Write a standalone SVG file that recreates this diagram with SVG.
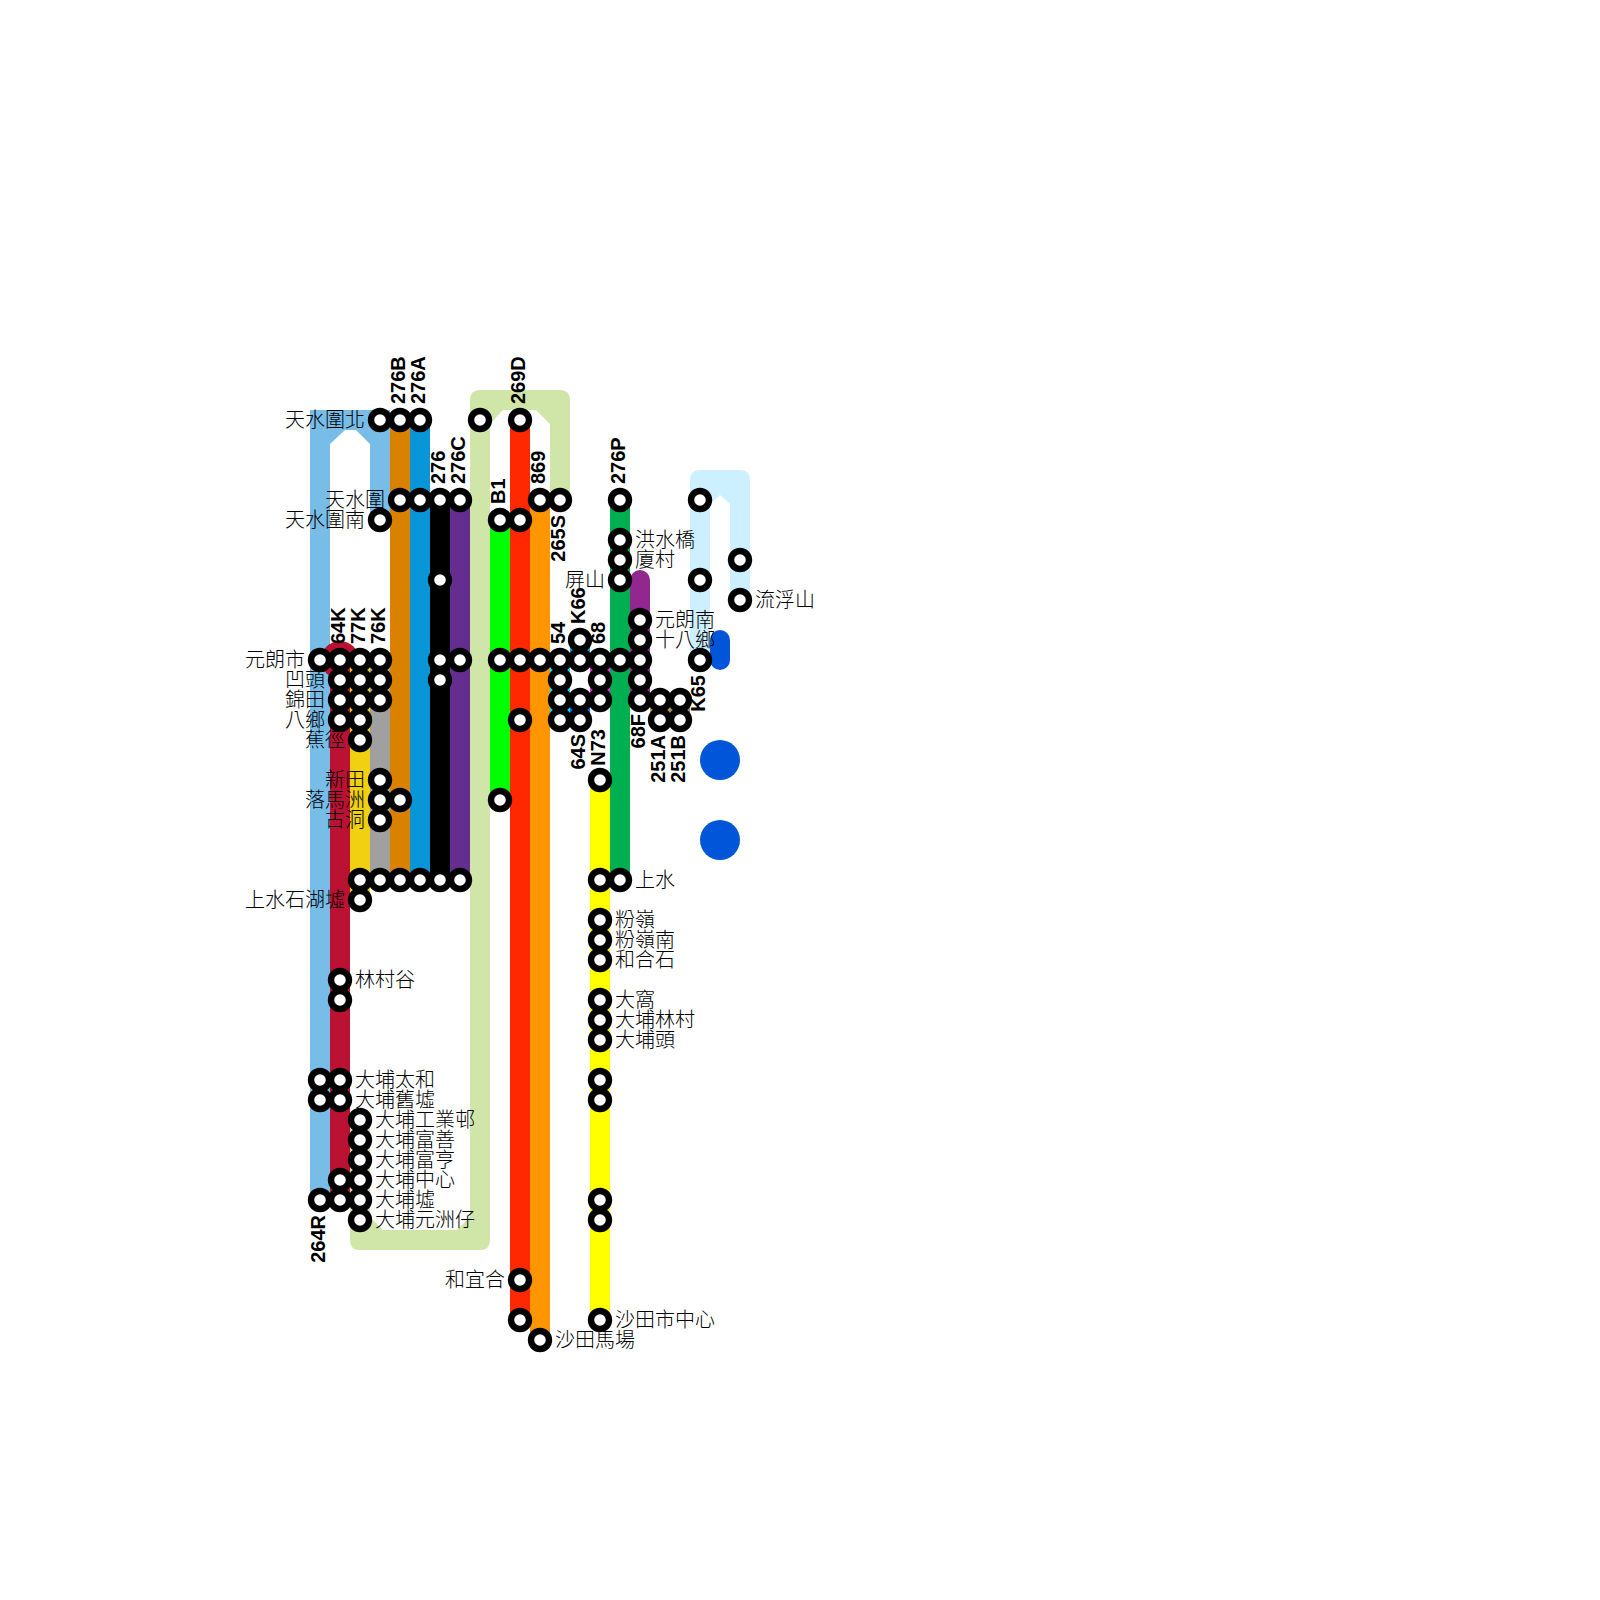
<svg xmlns="http://www.w3.org/2000/svg" width="1600" height="1600" viewBox="0 0 1600 1600">
<style>
.l{stroke-width:20;fill:none}
.s{fill:#fff;stroke:#000;stroke-width:6.4}
text{font-family:"Liberation Sans","Noto Sans CJK TC",sans-serif;fill:#000}
.t{font-size:20px;font-weight:300}
.e{text-anchor:end}
.r{font-size:20px;font-weight:bold}
</style>
<rect width="1600" height="1600" fill="#fff"/>
<g id="connectors">
<path id="line-264R" fill="#78bce8" d="M310 1200V410H390V520H370V444L356 430H345L330 444V1200Z"/>
<path id="line-265S" fill="#d0e5a8" d="M350 1120V1240Q350 1250 360 1250H480Q490 1250 490 1240V424L503 410H536L550 424V500H570V400Q570 390 560 390H480Q470 390 470 400V1217L457 1230H383L370 1217V1120Z"/>
<path id="line-K65" fill="#ccf0ff" d="M690 660V480Q690 470 700 470H740Q750 470 750 480V600H730V504L720 495L710 504V660Z"/>
<path id="line-64K" class="l" stroke="#bb1133" d="M340 660V1200"/>
<circle cx="340" cy="660" r="19" fill="#bb1133"/>
<path id="line-77K" class="l" stroke="#f0d010" d="M360 660V900"/>
<path id="line-76K" class="l" stroke="#a0a0a0" d="M380 660V880"/>
<path id="line-276B" class="l" stroke="#da8200" d="M400 420V880"/>
<path id="line-276A" class="l" stroke="#0996d9" d="M420 420V880"/>
<path id="line-276" class="l" stroke="#000" d="M440 500V880"/>
<path id="line-276C" class="l" stroke="#662d91" d="M460 500V880"/>
<path id="line-B1" class="l" stroke="#00ff00" d="M500 520V800"/>
<path id="line-269D" class="l" stroke="#ff2800" d="M520 420V1320"/>
<path id="line-869" class="l" stroke="#ff9500" d="M540 500V1340"/>
<path id="line-54" class="l" stroke="#00e5ff" d="M560 660V720"/>
<path id="line-K66" class="l" stroke="#00a0d0" d="M580 640V660"/>
<path id="line-64S" class="l" stroke="#0070f0" d="M580 700V720"/>
<path id="line-68" class="l" stroke="#ff20e0" d="M600 660V700"/>
<path id="line-N73" class="l" stroke="#ffff00" d="M600 780V1320"/>
<path id="line-68F" class="l" stroke="#92278f" stroke-linecap="round" d="M640 580V700"/>
<path id="line-276P" class="l" stroke="#00b050" d="M620 500V880"/>
<path id="line-251A" class="l" stroke="#c8903c" d="M660 700V720"/>
<path id="line-251B" class="l" stroke="#909090" d="M680 700V720"/>
<path id="line-K65b" class="l" stroke="#0055d8" stroke-linecap="round" d="M720 640V660"/>
<circle cx="720" cy="760" r="20" fill="#0055d8"/>
<circle cx="720" cy="840" r="20" fill="#0055d8"/>
</g>
<g id="route-labels" class="r">
<text transform="translate(405 404) rotate(-90)">276B</text>
<text transform="translate(425 404) rotate(-90)">276A</text>
<text transform="translate(445 484) rotate(-90)">276</text>
<text transform="translate(465 484) rotate(-90)">276C</text>
<text transform="translate(505 504) rotate(-90)">B1</text>
<text transform="translate(525 404) rotate(-90)">269D</text>
<text transform="translate(545 484) rotate(-90)">869</text>
<text class="e" transform="translate(565 515) rotate(-90)">265S</text>
<text transform="translate(625 484) rotate(-90)">276P</text>
<text transform="translate(585 624) rotate(-90)">K66</text>
<text transform="translate(565 644) rotate(-90)">54</text>
<text transform="translate(605 644) rotate(-90)">68</text>
<text transform="translate(345 644) rotate(-90)">64K</text>
<text transform="translate(365 644) rotate(-90)">77K</text>
<text transform="translate(385 644) rotate(-90)">76K</text>
<text class="e" transform="translate(585 734) rotate(-90)">64S</text>
<text class="e" transform="translate(605 729) rotate(-90)">N73</text>
<text class="e" transform="translate(645 714) rotate(-90)">68F</text>
<text class="e" transform="translate(665 735) rotate(-90)">251A</text>
<text class="e" transform="translate(685 735) rotate(-90)">251B</text>
<text class="e" transform="translate(705 675) rotate(-90)">K65</text>
<text class="e" transform="translate(325 1215) rotate(-90)">264R</text>
</g>
<g id="stations">
<circle class="s" cx="380" cy="420" r="9"/>
<circle class="s" cx="400" cy="420" r="9"/>
<circle class="s" cx="420" cy="420" r="9"/>
<circle class="s" cx="480" cy="420" r="9"/>
<circle class="s" cx="520" cy="420" r="9"/>
<circle class="s" cx="400" cy="500" r="9"/>
<circle class="s" cx="420" cy="500" r="9"/>
<circle class="s" cx="440" cy="500" r="9"/>
<circle class="s" cx="460" cy="500" r="9"/>
<circle class="s" cx="540" cy="500" r="9"/>
<circle class="s" cx="560" cy="500" r="9"/>
<circle class="s" cx="620" cy="500" r="9"/>
<circle class="s" cx="700" cy="500" r="9"/>
<circle class="s" cx="380" cy="520" r="9"/>
<circle class="s" cx="500" cy="520" r="9"/>
<circle class="s" cx="520" cy="520" r="9"/>
<circle class="s" cx="620" cy="540" r="9"/>
<circle class="s" cx="620" cy="560" r="9"/>
<circle class="s" cx="740" cy="560" r="9"/>
<circle class="s" cx="440" cy="580" r="9"/>
<circle class="s" cx="620" cy="580" r="9"/>
<circle class="s" cx="700" cy="580" r="9"/>
<circle class="s" cx="740" cy="600" r="9"/>
<circle class="s" cx="640" cy="620" r="9"/>
<circle class="s" cx="580" cy="640" r="9"/>
<circle class="s" cx="640" cy="640" r="9"/>
<circle class="s" cx="320" cy="660" r="9"/>
<circle class="s" cx="340" cy="660" r="9"/>
<circle class="s" cx="360" cy="660" r="9"/>
<circle class="s" cx="380" cy="660" r="9"/>
<circle class="s" cx="440" cy="660" r="9"/>
<circle class="s" cx="460" cy="660" r="9"/>
<circle class="s" cx="500" cy="660" r="9"/>
<circle class="s" cx="520" cy="660" r="9"/>
<circle class="s" cx="540" cy="660" r="9"/>
<circle class="s" cx="560" cy="660" r="9"/>
<circle class="s" cx="580" cy="660" r="9"/>
<circle class="s" cx="600" cy="660" r="9"/>
<circle class="s" cx="620" cy="660" r="9"/>
<circle class="s" cx="640" cy="660" r="9"/>
<circle class="s" cx="700" cy="660" r="9"/>
<circle class="s" cx="340" cy="680" r="9"/>
<circle class="s" cx="360" cy="680" r="9"/>
<circle class="s" cx="380" cy="680" r="9"/>
<circle class="s" cx="440" cy="680" r="9"/>
<circle class="s" cx="560" cy="680" r="9"/>
<circle class="s" cx="600" cy="680" r="9"/>
<circle class="s" cx="640" cy="680" r="9"/>
<circle class="s" cx="340" cy="700" r="9"/>
<circle class="s" cx="360" cy="700" r="9"/>
<circle class="s" cx="380" cy="700" r="9"/>
<circle class="s" cx="560" cy="700" r="9"/>
<circle class="s" cx="580" cy="700" r="9"/>
<circle class="s" cx="600" cy="700" r="9"/>
<circle class="s" cx="640" cy="700" r="9"/>
<circle class="s" cx="660" cy="700" r="9"/>
<circle class="s" cx="680" cy="700" r="9"/>
<circle class="s" cx="340" cy="720" r="9"/>
<circle class="s" cx="360" cy="720" r="9"/>
<circle class="s" cx="520" cy="720" r="9"/>
<circle class="s" cx="560" cy="720" r="9"/>
<circle class="s" cx="580" cy="720" r="9"/>
<circle class="s" cx="660" cy="720" r="9"/>
<circle class="s" cx="680" cy="720" r="9"/>
<circle class="s" cx="360" cy="740" r="9"/>
<circle class="s" cx="380" cy="780" r="9"/>
<circle class="s" cx="600" cy="780" r="9"/>
<circle class="s" cx="380" cy="800" r="9"/>
<circle class="s" cx="400" cy="800" r="9"/>
<circle class="s" cx="500" cy="800" r="9"/>
<circle class="s" cx="380" cy="820" r="9"/>
<circle class="s" cx="360" cy="880" r="9"/>
<circle class="s" cx="380" cy="880" r="9"/>
<circle class="s" cx="400" cy="880" r="9"/>
<circle class="s" cx="420" cy="880" r="9"/>
<circle class="s" cx="440" cy="880" r="9"/>
<circle class="s" cx="460" cy="880" r="9"/>
<circle class="s" cx="600" cy="880" r="9"/>
<circle class="s" cx="620" cy="880" r="9"/>
<circle class="s" cx="360" cy="900" r="9"/>
<circle class="s" cx="600" cy="920" r="9"/>
<circle class="s" cx="600" cy="940" r="9"/>
<circle class="s" cx="600" cy="960" r="9"/>
<circle class="s" cx="340" cy="980" r="9"/>
<circle class="s" cx="340" cy="1000" r="9"/>
<circle class="s" cx="600" cy="1000" r="9"/>
<circle class="s" cx="600" cy="1020" r="9"/>
<circle class="s" cx="600" cy="1040" r="9"/>
<circle class="s" cx="320" cy="1080" r="9"/>
<circle class="s" cx="340" cy="1080" r="9"/>
<circle class="s" cx="600" cy="1080" r="9"/>
<circle class="s" cx="320" cy="1100" r="9"/>
<circle class="s" cx="340" cy="1100" r="9"/>
<circle class="s" cx="600" cy="1100" r="9"/>
<circle class="s" cx="360" cy="1120" r="9"/>
<circle class="s" cx="360" cy="1140" r="9"/>
<circle class="s" cx="360" cy="1160" r="9"/>
<circle class="s" cx="340" cy="1180" r="9"/>
<circle class="s" cx="360" cy="1180" r="9"/>
<circle class="s" cx="320" cy="1200" r="9"/>
<circle class="s" cx="340" cy="1200" r="9"/>
<circle class="s" cx="360" cy="1200" r="9"/>
<circle class="s" cx="600" cy="1200" r="9"/>
<circle class="s" cx="360" cy="1220" r="9"/>
<circle class="s" cx="600" cy="1220" r="9"/>
<circle class="s" cx="520" cy="1280" r="9"/>
<circle class="s" cx="520" cy="1320" r="9"/>
<circle class="s" cx="600" cy="1320" r="9"/>
<circle class="s" cx="540" cy="1340" r="9"/>
</g>
<g id="station-labels" class="t">
<text class="e" x="365" y="427">天水圍北</text>
<text class="e" x="385" y="507">天水圍</text>
<text class="e" x="365" y="527">天水圍南</text>
<text class="e" x="605" y="587">屏山</text>
<text class="e" x="305" y="667">元朗市</text>
<text class="e" x="325" y="687">凹頭</text>
<text class="e" x="325" y="707">錦田</text>
<text class="e" x="325" y="727">八鄉</text>
<text class="e" x="345" y="747">蕉徑</text>
<text class="e" x="365" y="787">新田</text>
<text class="e" x="365" y="807">落馬洲</text>
<text class="e" x="365" y="827">古洞</text>
<text class="e" x="345" y="907">上水石湖墟</text>
<text class="e" x="505" y="1287">和宜合</text>
<text x="635" y="547">洪水橋</text>
<text x="635" y="567">廈村</text>
<text x="655" y="627">元朗南</text>
<text x="655" y="647">十八鄉</text>
<text x="755" y="607">流浮山</text>
<text x="635" y="887">上水</text>
<text x="615" y="927">粉嶺</text>
<text x="615" y="947">粉嶺南</text>
<text x="615" y="967">和合石</text>
<text x="615" y="1007">大窩</text>
<text x="615" y="1027">大埔林村</text>
<text x="615" y="1047">大埔頭</text>
<text x="355" y="987">林村谷</text>
<text x="355" y="1087">大埔太和</text>
<text x="355" y="1107">大埔舊墟</text>
<text x="375" y="1127">大埔工業邨</text>
<text x="375" y="1147">大埔富善</text>
<text x="375" y="1167">大埔富亨</text>
<text x="375" y="1187">大埔中心</text>
<text x="375" y="1207">大埔墟</text>
<text x="375" y="1227">大埔元洲仔</text>
<text x="615" y="1327">沙田市中心</text>
<text x="555" y="1347">沙田馬場</text>
</g>
</svg>
